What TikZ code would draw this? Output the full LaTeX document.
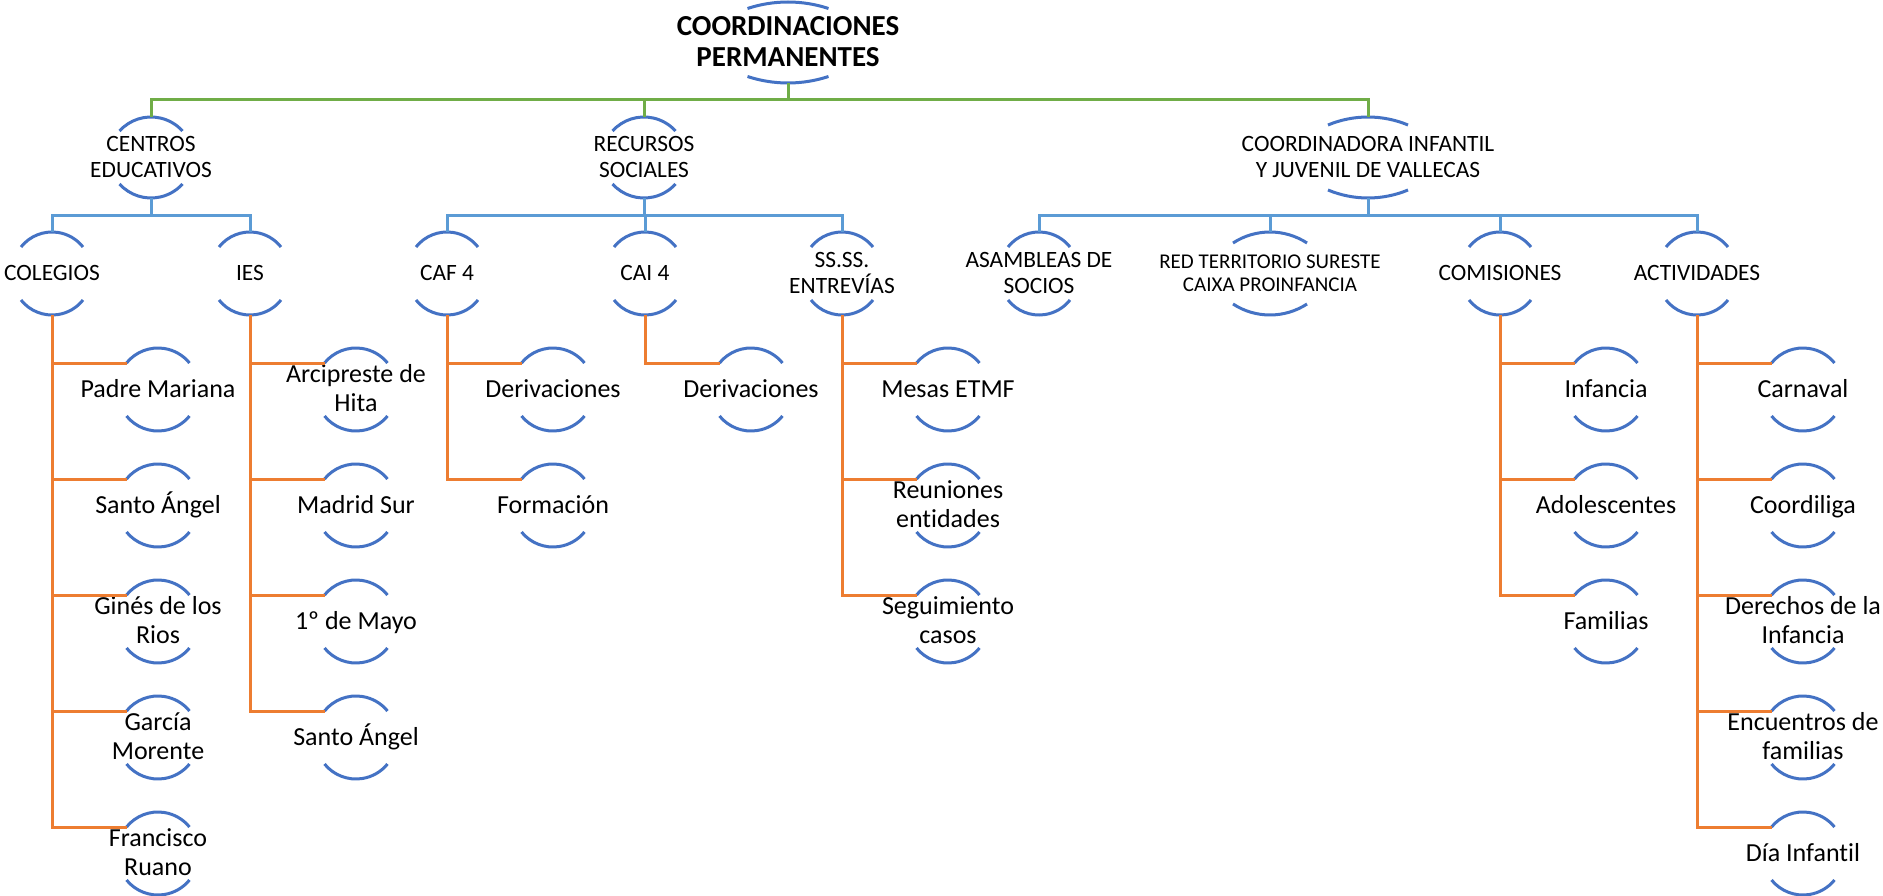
\documentclass[tikz,border=0pt]{standalone}
\usepackage{fontspec}
\setmainfont{Carlito}[Ligatures=NoCommon]
\usetikzlibrary{calc}
\definecolor{arcblue}{HTML}{4472C4}
\definecolor{busblue}{HTML}{5B9BD5}
\definecolor{orng}{HTML}{ED7D31}
\definecolor{grn}{HTML}{70AD47}
\tikzset{
  ringbox/.style={circle, draw=none, inner sep=0pt, outer sep=0pt},
  arcline/.style={draw=arcblue, line width=3pt},
  tbase/.style={align=center, inner sep=0pt, outer sep=0pt, text=black},
  troot/.style={tbase, font=\bfseries\fontsize{29}{31}\selectfont},
  t2/.style={tbase, font=\fontsize{23.4}{26}\selectfont},
  tred/.style={tbase, font=\fontsize{21}{23.5}\selectfont},
  t3/.style={tbase, font=\fontsize{26}{29}\selectfont},
  grnline/.style={draw=grn, line width=3pt},
  busline/.style={draw=busblue, line width=3pt},
  orline/.style={draw=orng, line width=3pt}
}
% #1 text style, #2 name, #3 x, #4 y (down), #5 half height, #6 half chord, #7 sagitta, #8 text
\newcommand\mkring[8]{%
  \pgfmathsetmacro\rR{(#6*#6+#7*#7)/(2*#7)}%
  \pgfmathsetmacro\rT{asin(#6/\rR)}%
  \node[ringbox, minimum size=2*#5pt] (#2) at (#3,-#4) {};
  \node[#1] (#2-t) at (#2) {\rule{0pt}{0.85em}#8\rule[-0.25em]{0pt}{0.25em}};
  \coordinate (#2-in) at ($(#2)+(-#6,#5-#7)$);
  \draw[arcline] (#2-in) arc[start angle=90+\rT, end angle=90-\rT, radius=\rR pt];
  \draw[arcline] ($(#2)+(-#6,-#5+#7)$) arc[start angle=270-\rT, end angle=270+\rT, radius=\rR pt];
}
\begin{document}
\begin{tikzpicture}[x=1pt,y=1pt]
\fill[white] (0,0) rectangle (1883,-896);
\useasboundingbox (0,0) rectangle (1883,-896);

% root and level 1
\mkring{troot}{root}{788}{42.5}{40.5}{40.5}{6.5}{COORDINACIONES\\PERMANENTES}
\mkring{t2}{cen}{151}{157.5}{40.5}{31.5}{14}{CENTROS\\EDUCATIVOS}
\mkring{t2}{rec}{644}{157.5}{40.5}{31.5}{14}{RECURSOS\\SOCIALES}
\mkring{t2}{coo}{1368}{157.5}{40.5}{40}{8}{COORDINADORA INFANTIL\\Y JUVENIL DE VALLECAS}

% level 2
\mkring{t2}{col}{52}{273.5}{41.5}{31}{15}{COLEGIOS}
\mkring{t2}{ies}{250}{273.5}{41.5}{31}{15}{IES}
\mkring{t2}{caf}{447}{273.5}{41.5}{31}{15}{CAF 4}
\mkring{t2}{cai}{645}{273.5}{41.5}{31}{15}{CAI 4}
\mkring{t2}{sss}{842}{273.5}{41.5}{31}{15}{SS.SS.\\ENTREVÍAS}
\mkring{t2}{asa}{1039}{273.5}{41.5}{31}{15}{ASAMBLEAS DE\\SOCIOS}
\mkring{tred}{red}{1270}{273.5}{41.5}{37}{11}{RED TERRITORIO SURESTE\\CAIXA PROINFANCIA}
\mkring{t2}{com}{1500}{273.5}{41.5}{31}{15}{COMISIONES}
\mkring{t2}{act}{1697}{273.5}{41.5}{31}{15}{ACTIVIDADES}

% level 3: COLEGIOS
\mkring{t3}{c1}{158}{389.5}{41.5}{31.5}{15}{Padre Mariana}
\mkring{t3}{c2}{158}{505.5}{41.5}{31.5}{15}{Santo Ángel}
\mkring{t3}{c3}{158}{621.5}{41.5}{31.5}{15}{Ginés de los\\Rios}
\mkring{t3}{c4}{158}{737.5}{41.5}{31.5}{15}{García\\Morente}
\mkring{t3}{c5}{158}{853.5}{41.5}{31.5}{15}{Francisco\\Ruano}
% IES
\mkring{t3}{i1}{356}{389.5}{41.5}{31.5}{15}{Arcipreste de\\Hita}
\mkring{t3}{i2}{356}{505.5}{41.5}{31.5}{15}{Madrid Sur}
\mkring{t3}{i3}{356}{621.5}{41.5}{31.5}{15}{1º de Mayo}
\mkring{t3}{i4}{356}{737.5}{41.5}{31.5}{15}{Santo Ángel}
% CAF 4
\mkring{t3}{f1}{553}{389.5}{41.5}{31.5}{15}{Derivaciones}
\mkring{t3}{f2}{553}{505.5}{41.5}{31.5}{15}{Formación}
% CAI 4
\mkring{t3}{a1}{751}{389.5}{41.5}{31.5}{15}{Derivaciones}
% SS.SS.
\mkring{t3}{s1}{948}{389.5}{41.5}{31.5}{15}{Mesas ETMF}
\mkring{t3}{s2}{948}{505.5}{41.5}{31.5}{15}{Reuniones\\entidades}
\mkring{t3}{s3}{948}{621.5}{41.5}{31.5}{15}{Seguimiento\\casos}
% COMISIONES
\mkring{t3}{m1}{1606}{389.5}{41.5}{31.5}{15}{Infancia}
\mkring{t3}{m2}{1606}{505.5}{41.5}{31.5}{15}{Adolescentes}
\mkring{t3}{m3}{1606}{621.5}{41.5}{31.5}{15}{Familias}
% ACTIVIDADES
\mkring{t3}{v1}{1803}{389.5}{41.5}{31.5}{15}{Carnaval}
\mkring{t3}{v2}{1803}{505.5}{41.5}{31.5}{15}{Coordiliga}
\mkring{t3}{v3}{1803}{621.5}{41.5}{31.5}{15}{Derechos de la\\Infancia}
\mkring{t3}{v4}{1803}{737.5}{41.5}{31.5}{15}{Encuentros de\\familias}
\mkring{t3}{v5}{1803}{853.5}{41.5}{31.5}{15}{Día Infantil}

% connectors
\foreach \c in {cen,rec,coo} \draw[grnline] (root.south) -- ++(0,-17) -| (\c.north);
\foreach \c in {col,ies} \draw[busline] (cen.south) -- ++(0,-18) -| (\c.north);
\foreach \c in {caf,cai,sss} \draw[busline] (rec.south) -- ++(0,-18) -| (\c.north);
\foreach \c in {asa,red,com,act} \draw[busline] (coo.south) -- ++(0,-18) -| (\c.north);
\foreach \c in {c1,c2,c3,c4,c5} \draw[orline] (col.south) |- (\c-in);
\foreach \c in {i1,i2,i3,i4} \draw[orline] (ies.south) |- (\c-in);
\foreach \c in {f1,f2} \draw[orline] (caf.south) |- (\c-in);
\foreach \c in {a1} \draw[orline] (cai.south) |- (\c-in);
\foreach \c in {s1,s2,s3} \draw[orline] (sss.south) |- (\c-in);
\foreach \c in {m1,m2,m3} \draw[orline] (com.south) |- (\c-in);
\foreach \c in {v1,v2,v3,v4,v5} \draw[orline] (act.south) |- (\c-in);
\end{tikzpicture}
\end{document}
